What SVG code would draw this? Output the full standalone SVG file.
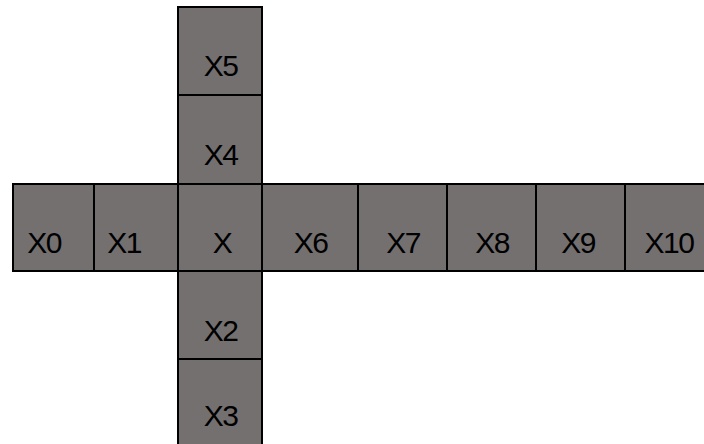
<svg xmlns="http://www.w3.org/2000/svg" width="704" height="444" viewBox="0 0 704 444">
<style>
.b{fill:#747070;stroke:#000;stroke-width:2}
.t{font-family:"Liberation Sans",Arial,sans-serif;font-size:30px;letter-spacing:-1.5px;fill:#000;text-anchor:middle}
</style>
<rect width="704" height="444" fill="#fff"/>
<g id="X0"><rect class="b" x="13" y="184" width="81" height="87"/><text class="t" x="44" y="253">X0</text></g>
<g id="X1"><rect class="b" x="94" y="184" width="84" height="87"/><text class="t" x="124" y="253">X1</text></g>
<g id="X"><rect class="b" x="178" y="184" width="84" height="87"/><text class="t" x="222" y="253">X</text></g>
<g id="X6"><rect class="b" x="262" y="184" width="96" height="87"/><text class="t" x="310.5" y="253">X6</text></g>
<g id="X7"><rect class="b" x="358" y="184" width="89" height="87"/><text class="t" x="403" y="253">X7</text></g>
<g id="X8"><rect class="b" x="447" y="184" width="89" height="87"/><text class="t" x="492" y="253">X8</text></g>
<g id="X9"><rect class="b" x="536" y="184" width="89" height="87"/><text class="t" x="578" y="253">X9</text></g>
<g id="X10"><rect class="b" x="625" y="184" width="89" height="87"/><text class="t" x="669" y="253">X10</text></g>
<g id="X5"><rect class="b" x="178" y="7" width="84" height="88"/><text class="t" x="220.5" y="76">X5</text></g>
<g id="X4"><rect class="b" x="178" y="95" width="84" height="89"/><text class="t" x="220.5" y="165">X4</text></g>
<g id="X2"><rect class="b" x="178" y="271" width="84" height="88"/><text class="t" x="220.5" y="341">X2</text></g>
<g id="X3"><rect class="b" x="178" y="359" width="84" height="88"/><text class="t" x="220.5" y="426">X3</text></g>
<g id="connectors"/>
</svg>
